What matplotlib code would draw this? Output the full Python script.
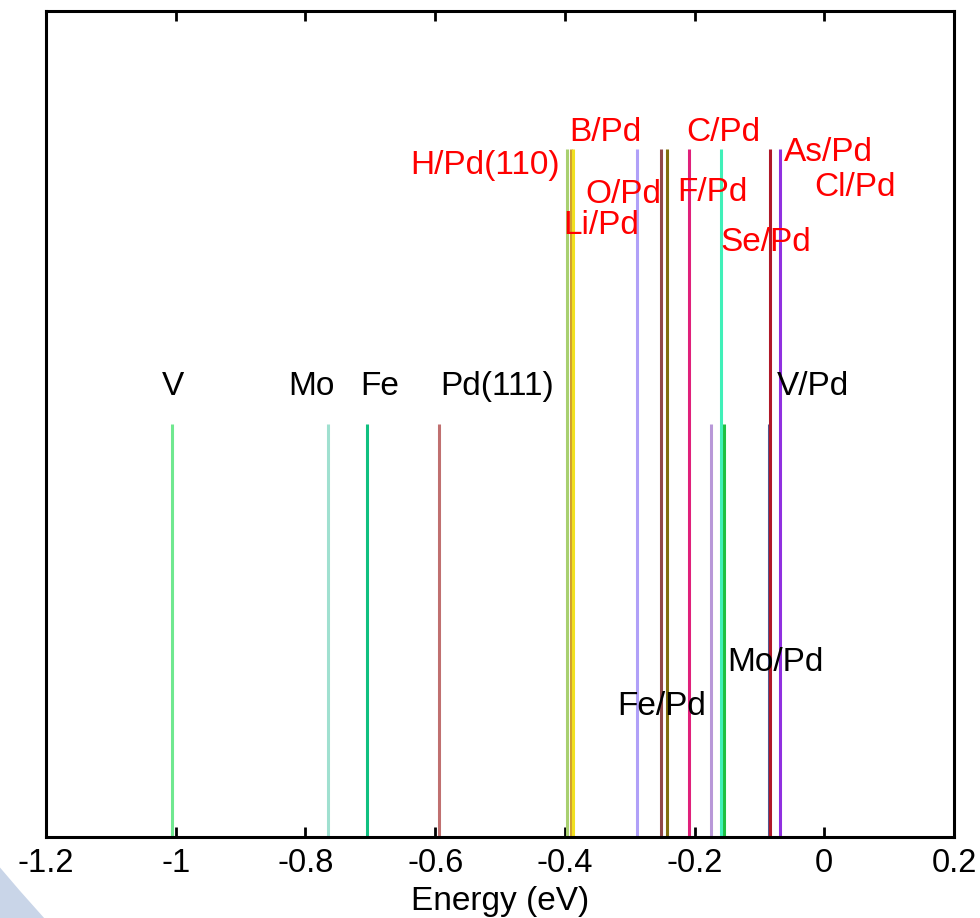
import matplotlib
matplotlib.use("Agg")
import matplotlib.pyplot as plt
from matplotlib.patches import Polygon

plt.rcParams['font.family'] = ['Liberation Sans', 'DejaVu Sans']

# --- data ---
# adsorbate-on-Pd systems (tall lines)
tall_energy = [-0.397, -0.391, -0.387, -0.288, -0.251, -0.243, -0.208, -0.160, -0.083, -0.069]
tall_height = [1.0] * len(tall_energy)
tall_colors = ['#a8d070', '#d0a030', '#f0e020', '#b0a0f8', '#904848',
               '#807010', '#e0207a', '#40f0b8', '#b01828', '#9030e0']

# metals / overlayers (short lines)
short_energy = [-1.006, -0.765, -0.705, -0.594, -0.175, -0.155, -0.086]
short_height = [0.6] * len(short_energy)
short_colors = ['#70e890', '#a0e0d0', '#10c080', '#c07070', '#b898d8', '#20c040', '#505890']

red_labels = ['H/Pd(110)', 'B/Pd', 'O/Pd', 'Li/Pd', 'F/Pd', 'C/Pd', 'Se/Pd', 'As/Pd', 'Cl/Pd']
black_labels = ['V', 'Mo', 'Fe', 'Pd(111)', 'V/Pd', 'Mo/Pd', 'Fe/Pd']

x_ticks = [-1.2, -1.0, -0.8, -0.6, -0.4, -0.2, 0.0, 0.2]
x_tick_labels = ['-1.2', '-1', '-0.8', '-0.6', '-0.4', '-0.2', '0', '0.2']

# label placement (layout, data coordinates)
red_pos = [(-0.523, 0.976), (-0.338, 1.024), (-0.310, 0.933), (-0.344, 0.888),
           (-0.172, 0.936), (-0.156, 1.023), (-0.090, 0.864), (0.006, 0.995), (0.047, 0.943)]
black_pos = [(-1.004, 0.654), (-0.790, 0.654), (-0.685, 0.654), (-0.505, 0.654),
             (-0.017, 0.654), (-0.076, 0.253), (-0.250, 0.189)]

fig = plt.figure(figsize=(9.8, 9.18), dpi=100)
ax = fig.add_axes([46/980, 81/918, 908/980, 826/918])

ax.vlines(short_energy, 0, short_height, colors=short_colors, lw=2.2)
ax.vlines(tall_energy, 0, tall_height, colors=tall_colors, lw=2.2)

for t, (x, y) in zip(red_labels, red_pos):
    ax.text(x, y, t, color='#ff0000', fontsize=24, ha='center', va='center')
for t, (x, y) in zip(black_labels, black_pos):
    ax.text(x, y, t, color='black', fontsize=24, ha='center', va='center')

ax.set_xlim(-1.2, 0.2)
ax.set_ylim(0, 1.2)
ax.set_xticks(x_ticks)
ax.set_xticklabels(x_tick_labels, fontsize=23.5)
ax.set_yticks([])
ax.tick_params(axis='x', direction='in', top=True, length=7, width=2, pad=8)
for s in ax.spines.values():
    s.set_linewidth(2.2)
ax.set_xlabel('Energy (eV)', fontsize=24, labelpad=5)

# light-blue slide background wedge in the lower-left corner
wedge = Polygon([(0, 0), (0, 0.055), (0.02, 0.03), (0.045, 0)], closed=True,
                transform=fig.transFigure, facecolor='#c9d5e8', edgecolor='none', zorder=0)
fig.patches.append(wedge)

fig.savefig('out.png', dpi=100, facecolor='white')
